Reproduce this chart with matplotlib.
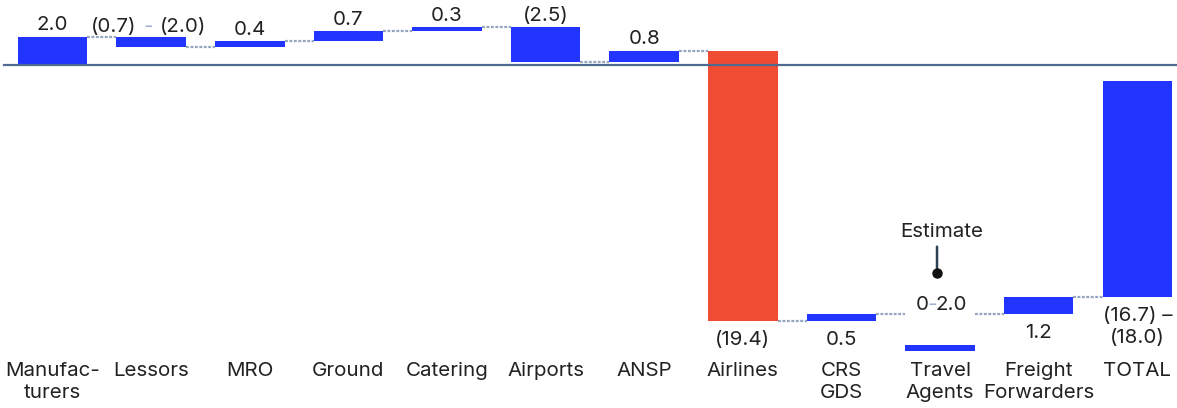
import matplotlib
matplotlib.use("Agg")
import matplotlib.pyplot as plt
from matplotlib.transforms import offset_copy

plt.rcParams["font.family"] = ["Inter", "DejaVu Sans"]

# ---- data -------------------------------------------------------------
categories = ["Manufac-\nturers", "Lessors", "MRO", "Ground", "Catering",
              "Airports", "ANSP", "Airlines", "CRS\nGDS", "Travel\nAgents",
              "Freight\nForwarders", "TOTAL"]
# step for each segment (low end where a range is quoted); TOTAL is the sum
steps = [2.0, -0.7, 0.4, 0.7, 0.3, -2.5, 0.8, -19.4, 0.5, 0.0, 1.2]
value_labels = ["2.0", None, "0.4", "0.7", "0.3", "(2.5)", "0.8", "(19.4)",
                "0.5", None, "1.2", "(16.7) –\n(18.0)"]
lessors_range = ["(0.7)", "(2.0)"]
travel_range = [0.0, 2.0]
travel_labels = ["0", "2.0"]
highlight = "Airlines"

# ---- style ------------------------------------------------------------
BLUE = "#2234ff"
RED = "#f04b33"
AXIS = "#4f6a8f"
CONNECT = "#93a5c0"
DASH = "#9fb1d3"
TEXT = "#222222"
FS = 14.8
BAR_W = 0.705
PX_PER_UNIT = 13.9
ZERO_PX = 64.8
W_PX, H_PX = 1177, 408
X0_PX, DX_PX = 52.5, 98.62

fig = plt.figure(figsize=(W_PX / 100, H_PX / 100), dpi=100)
ax = fig.add_axes([0, 0, 1, 1])
ax.set_xlim(-X0_PX / DX_PX, (W_PX - X0_PX) / DX_PX)
ax.set_ylim(-(H_PX - ZERO_PX) / PX_PER_UNIT, ZERO_PX / PX_PER_UNIT)
ax.axis("off")

# ---- waterfall --------------------------------------------------------
starts, ends = [], []
level = 0.0
for s in steps:
    starts.append(level)
    level += s
    ends.append(level)
total = level

for i, (s0, s1) in enumerate(zip(starts, ends)):
    if s1 == s0:
        continue
    color = RED if categories[i] == highlight else BLUE
    ax.bar(i, s1 - s0, bottom=s0, width=BAR_W, color=color,
           edgecolor="none", zorder=3)

# total column, kept clear of the baseline
total_gap = 1.15
n = len(categories) - 1
ax.bar(n, -total - total_gap, bottom=total, width=BAR_W, color=BLUE,
       edgecolor="none", zorder=3)

# dotted connectors between columns
for i in range(len(steps)):
    ax.plot([i + BAR_W / 2, i + 1 - BAR_W / 2], [ends[i], ends[i]],
            color=CONNECT, lw=1.6, ls=(0, (1.3, 0.7)), zorder=2)

# travel agents: estimate marker below the run
ti = categories.index("Travel\nAgents")
t_level = ends[ti]
ax.bar(ti, -0.42, bottom=t_level - travel_range[1] - 0.25, width=BAR_W,
       color=BLUE, edgecolor="none", zorder=3)

ax.axhline(0, xmin=4 / W_PX, xmax=1, color=AXIS, lw=1.6, zorder=4)

# ---- value labels -----------------------------------------------------
for i, lab in enumerate(value_labels):
    if lab is None:
        continue
    if i < n:
        top, bot = max(starts[i], ends[i]), min(starts[i], ends[i])
    else:
        top, bot = -total_gap, total
    if bot >= 0:
        ax.annotate(lab, (i, top), xytext=(0, 4.7), textcoords="offset points",
                    ha="center", va="baseline", fontsize=FS, color=TEXT)
    else:
        ax.annotate(lab, (i, bot), xytext=(0, -7.4), textcoords="offset points",
                    ha="center", va="top", fontsize=FS, color=TEXT,
                    linespacing=1.3)

# lessors range label with a light dash
li = categories.index("Lessors")
ltop = starts[li]
ax.annotate(lessors_range[0], (li, ltop), xytext=(-10.4, 3.5),
            textcoords="offset points", ha="right", va="baseline",
            fontsize=FS, color=TEXT)
ax.annotate("-", (li, ltop), xytext=(-2.2, 3.5), textcoords="offset points",
            ha="center", va="baseline", fontsize=FS, color=DASH)
ax.annotate(lessors_range[1], (li, ltop), xytext=(6.0, 3.5),
            textcoords="offset points", ha="left", va="baseline",
            fontsize=FS, color=TEXT)

# travel agents range label
ax.annotate(travel_labels[0], (ti, t_level), xytext=(-8.4, 2.6),
            textcoords="offset points", ha="right", va="baseline",
            fontsize=FS, color=TEXT)
ax.annotate("-", (ti, t_level), xytext=(-5.6, 2.6), textcoords="offset points",
            ha="center", va="baseline", fontsize=FS, color=DASH)
ax.annotate(travel_labels[1], (ti, t_level), xytext=(-3.2, 2.6),
            textcoords="offset points", ha="left", va="baseline",
            fontsize=FS, color=TEXT)

# "Estimate" callout
dot_tr = offset_copy(ax.transData, fig=fig, x=-2.2, y=29.0, units="points")
top_tr = offset_copy(ax.transData, fig=fig, x=-2.2, y=48.2, units="points")
ax.annotate("", xy=(ti, t_level), xycoords=dot_tr,
            xytext=(ti, t_level), textcoords=top_tr,
            arrowprops=dict(arrowstyle="-", color="#2e4257", lw=1.8,
                            shrinkA=0, shrinkB=0))
ax.plot([ti], [t_level], "o", transform=dot_tr, color="#111111",
        markersize=6.5, zorder=5)
ax.annotate("Estimate", (ti, t_level), xytext=(1.5, 55),
            textcoords="offset points", ha="center", va="baseline",
            fontsize=FS, color=TEXT)

# ---- category labels --------------------------------------------------
for i, c in enumerate(categories):
    ax.text(i, 1 - 361.5 / H_PX, c, transform=ax.get_xaxis_transform(),
            ha="center", va="top", fontsize=FS, color=TEXT,
            linespacing=1.3, multialignment="center")

fig.savefig("out.png", dpi=100)
